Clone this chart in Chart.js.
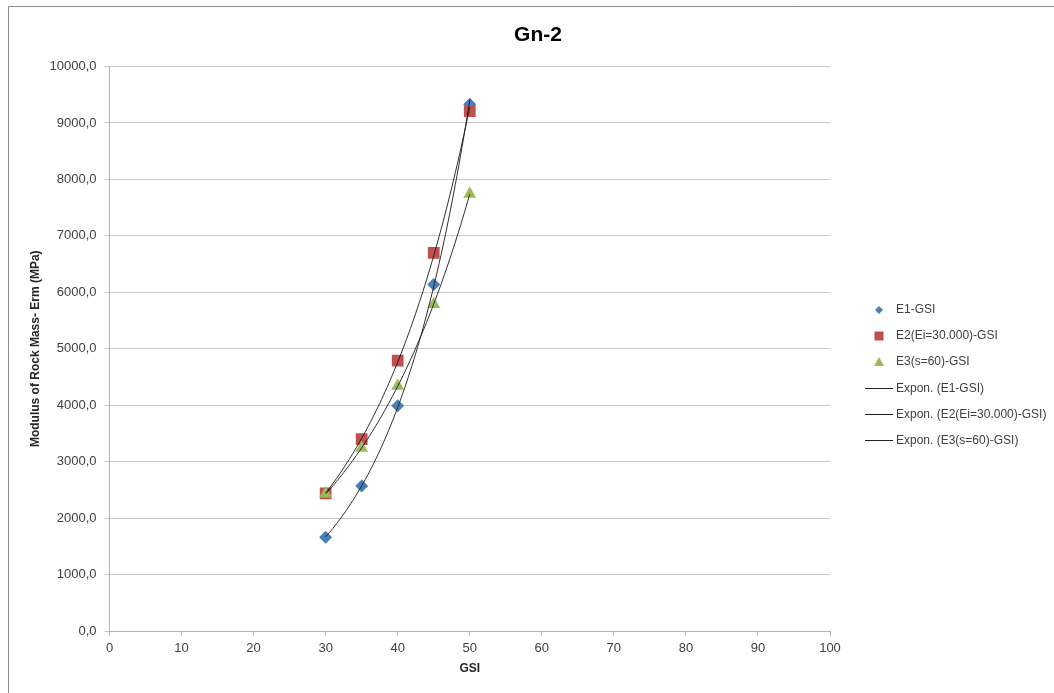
<!DOCTYPE html>
<html>
<head>
<meta charset="utf-8">
<title>Gn-2</title>
<script src="https://cdn.jsdelivr.net/npm/chart.js@4/dist/chart.umd.min.js"></script>
<style>
  html, body { margin: 0; padding: 0; background: #fff; }
  canvas { display: block; }
</style>
</head>
<body>
<canvas id="c" width="1054" height="693"></canvas>
<script>
// GSI values (x) shared by the three series
const gsi = [30, 35, 40, 45, 50];
// Modulus of rock mass, Erm (MPa)
const e1 = [1660, 2570, 3990, 6140, 9330];
const e2 = [2440, 3400, 4790, 6700, 9210];
const e3 = [2430, 3240, 4340, 5790, 7740];

const seriesNames = ['E1-GSI', 'E2(Ei=30.000)-GSI', 'E3(s=60)-GSI'];
const trendNames = ['Expon. (E1-GSI)', 'Expon. (E2(Ei=30.000)-GSI)', 'Expon. (E3(s=60)-GSI)'];
const chartTitle = 'Gn-2';
const xTitle = 'GSI';
const yTitle = 'Modulus of Rock Mass- Erm (MPa)';

const colors = ['#4A7EBB', '#C0504D', '#9BBB59'];
const styles = ['rectRot', 'rect', 'triangle'];
const radii = [6.5, 8.3, 7.5];

// Exponential least-squares fit y = a * exp(b x) on ln(y)
function expFit(xs, ys) {
  const n = xs.length;
  let sx = 0, sy = 0, sxx = 0, sxy = 0;
  for (let i = 0; i < n; i++) {
    const ly = Math.log(ys[i]);
    sx += xs[i]; sy += ly; sxx += xs[i] * xs[i]; sxy += xs[i] * ly;
  }
  const b = (n * sxy - sx * sy) / (n * sxx - sx * sx);
  const a = Math.exp((sy - b * sx) / n);
  return { a, b };
}
function trendPoints(xs, ys) {
  const f = expFit(xs, ys);
  const pts = [];
  const x0 = Math.min(...xs), x1 = Math.max(...xs);
  const steps = 80;
  for (let i = 0; i <= steps; i++) {
    const x = x0 + (x1 - x0) * i / steps;
    pts.push({ x, y: f.a * Math.exp(f.b * x) });
  }
  return pts;
}

const series = [e1, e2, e3];
const datasets = [];
series.forEach((ys, k) => {
  datasets.push({
    label: trendNames[k],
    data: trendPoints(gsi, ys),
    showLine: true,
    borderColor: 'rgba(25,25,25,0.9)',
    borderWidth: 1,
    pointRadius: 0,
    fill: false,
    order: 0
  });
});
series.forEach((ys, k) => {
  datasets.push({
    label: seriesNames[k],
    data: gsi.map((x, i) => ({ x, y: ys[i] })),
    showLine: false,
    pointStyle: styles[k],
    pointRadius: radii[k],
    pointBackgroundColor: colors[k],
    pointBorderColor: colors[k],
    pointBorderWidth: 0,
    order: 3 - k
  });
});

function fmtComma(v) { return v.toFixed(1).replace('.', ','); }

function drawMarker(ctx, style, x, y, r, color) {
  ctx.save();
  ctx.fillStyle = color;
  ctx.beginPath();
  if (style === 'rectRot') {
    ctx.moveTo(x - r, y); ctx.lineTo(x, y - r); ctx.lineTo(x + r, y); ctx.lineTo(x, y + r);
  } else if (style === 'rect') {
    ctx.rect(x - r, y - r, 2 * r, 2 * r);
  } else {
    ctx.moveTo(x, y - r); ctx.lineTo(x + r, y + r * 0.8); ctx.lineTo(x - r, y + r * 0.8);
  }
  ctx.closePath();
  ctx.fill();
  ctx.restore();
}

const decor = {
  id: 'decor',
  afterDraw(chart) {
    const ctx = chart.ctx;
    ctx.save();
    // outer frame (top and left edges)
    ctx.strokeStyle = '#8c8c8c';
    ctx.lineWidth = 1;
    ctx.beginPath();
    ctx.moveTo(8.5, 693); ctx.lineTo(8.5, 6.5); ctx.lineTo(1054, 6.5);
    ctx.stroke();
    // title
    ctx.fillStyle = '#000';
    ctx.font = 'bold 21px "Liberation Sans", Arial, sans-serif';
    ctx.textAlign = 'center';
    ctx.textBaseline = 'middle';
    ctx.fillText(chartTitle, 538, 35);
    // legend
    ctx.font = '12px "Liberation Sans", Arial, sans-serif';
    ctx.textAlign = 'left';
    ctx.fillStyle = '#404040';
    const lx = 879, tx = 896, y0 = 310, dy = 26;
    const lr = [4, 4.5, 5];
    seriesNames.forEach((name, k) => {
      const y = y0 + dy * k;
      drawMarker(ctx, styles[k], lx, y, lr[k], colors[k]);
      ctx.fillStyle = '#404040';
      ctx.fillText(name, tx, y);
    });
    trendNames.forEach((name, k) => {
      const y = Math.round(y0 + dy * (k + 3)) + 0.5;
      ctx.strokeStyle = '#222';
      ctx.beginPath();
      ctx.moveTo(865, y); ctx.lineTo(893, y);
      ctx.stroke();
      ctx.fillStyle = '#404040';
      ctx.fillText(name, tx, y);
    });
    ctx.restore();
  }
};

new Chart(document.getElementById('c'), {
  type: 'scatter',
  data: { datasets },
  plugins: [decor],
  options: {
    responsive: false,
    animation: false,
    layout: { padding: { top: 66.5, right: 224, bottom: 0, left: 0 } },
    plugins: {
      legend: { display: false },
      tooltip: { enabled: false },
      title: { display: false }
    },
    scales: {
      x: {
        type: 'linear',
        min: 0, max: 100,
        ticks: {
          stepSize: 10,
          color: '#404040',
          font: { family: '"Liberation Sans", Arial, sans-serif', size: 13 },
          padding: 5,
          maxRotation: 0
        },
        grid: { drawOnChartArea: false, drawTicks: true, tickLength: 5, color: '#b3b3b3' },
        border: { color: '#b3b3b3' },
        title: {
          display: true, text: xTitle, color: '#262626',
          font: { family: '"Liberation Sans", Arial, sans-serif', size: 12, weight: 'bold' },
          padding: { top: 0, bottom: 17 }
        },
        afterFit(s) { s.height = 62; }
      },
      y: {
        type: 'linear',
        min: 0, max: 10000,
        ticks: {
          stepSize: 1000,
          color: '#404040',
          font: { family: '"Liberation Sans", Arial, sans-serif', size: 13 },
          padding: 8,
          callback: (v) => fmtComma(v)
        },
        grid: { color: '#c8c8c8', tickLength: 5 },
        border: { color: '#b3b3b3' },
        title: {
          display: true, text: yTitle, color: '#262626',
          font: { family: '"Liberation Sans", Arial, sans-serif', size: 12, weight: 'bold' },
          padding: { top: 28, bottom: 0 }
        },
        afterFit(s) { s.width = 109.5; }
      }
    }
  }
});
</script>
</body>
</html>
